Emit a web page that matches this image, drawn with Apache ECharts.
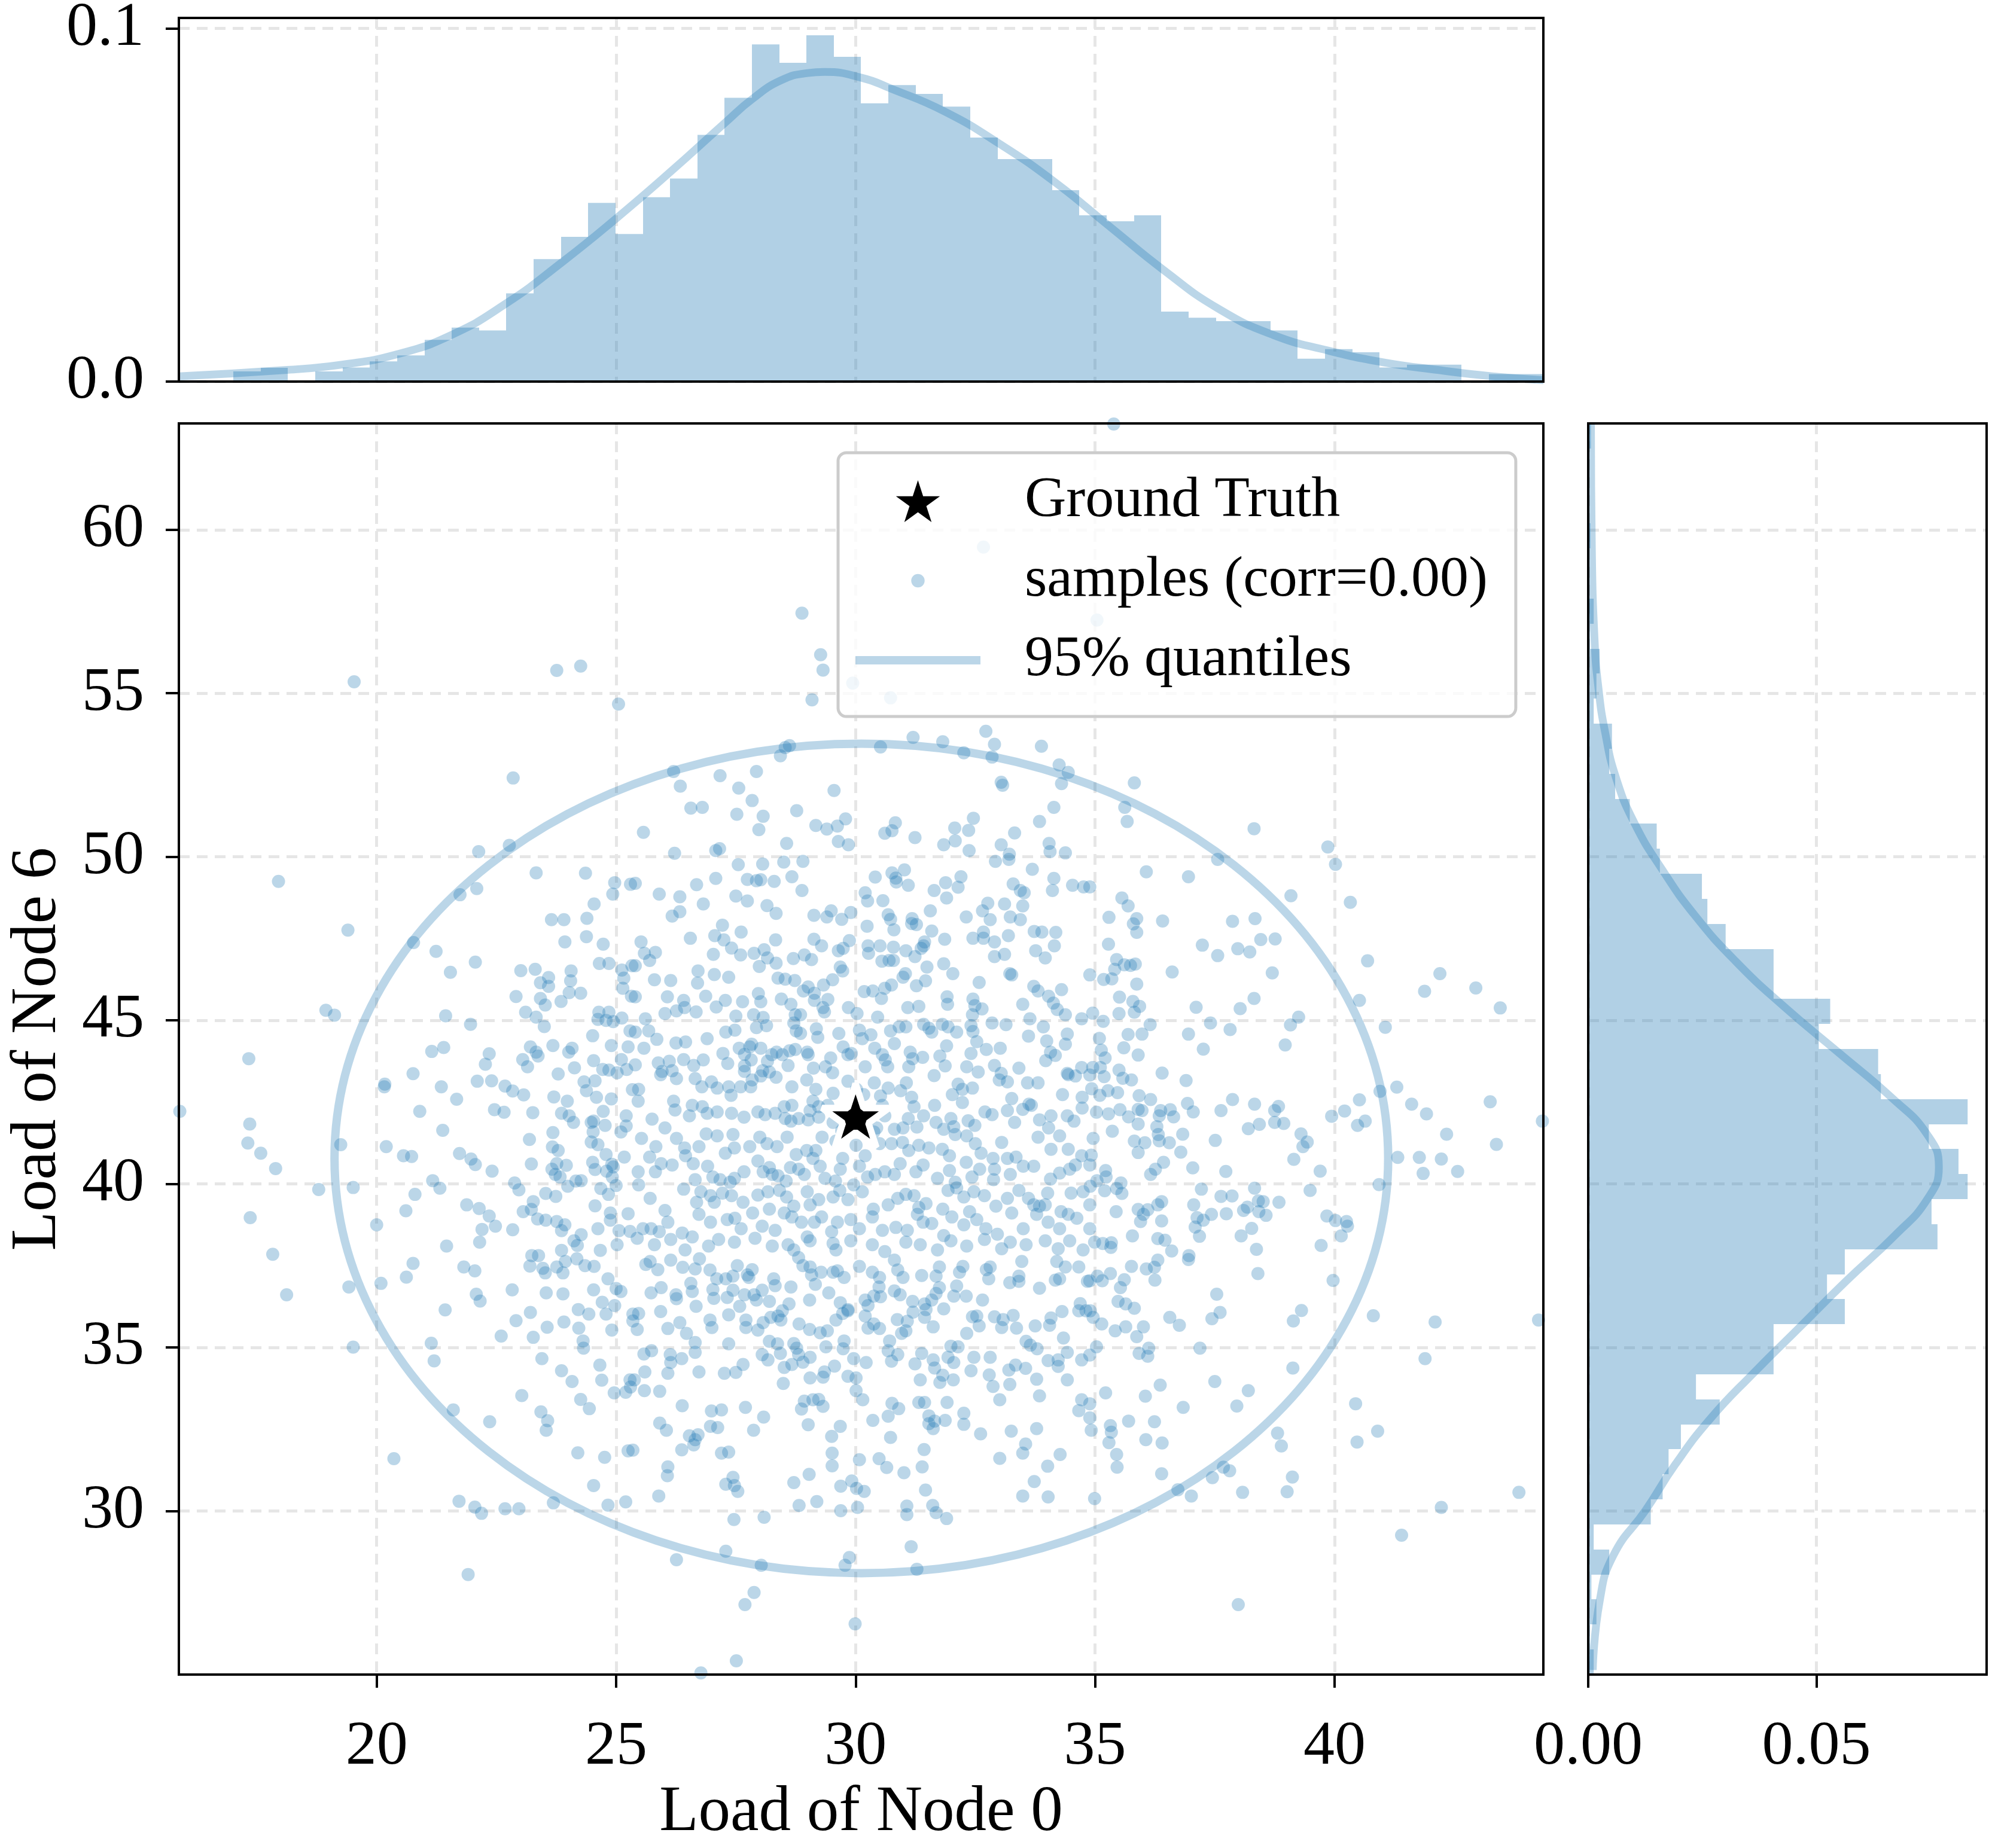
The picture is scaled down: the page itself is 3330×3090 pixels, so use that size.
<!DOCTYPE html>
<html>
<head>
<meta charset="utf-8">
<script src="https://cdn.jsdelivr.net/npm/echarts@6/dist/echarts.min.js"></script>
<style>
  html, body { margin: 0; padding: 0; background: #fff; }
  #chart { width: 3330px; height: 3090px; }
</style>
</head>
<body>
<div id="chart"></div>
<script>
// ---- data ----
const xTicks = [20, 25, 30, 35, 40];
const yTicks = [30, 35, 40, 45, 50, 55, 60];
const topTicks = [0, 0.1];
const rightTicks = [0, 0.05];

const groundTruth = [30, 42];
// centre x, centre y, half-width, half-height of the 95% region
const quantileEllipse = [30.12, 40.78, 11.0, 12.68];

// marginal histogram of Load of Node 0 (50 bins from 15.87, width 0.5698)
const topBinStart = 15.87, topBinWidth = 0.5698;
const topHist = [0.0004, 0, 0.0029, 0.0039, 0, 0.0029, 0.0040, 0.0057, 0.0074, 0.0118,
  0.0153, 0.0145, 0.0250, 0.0347, 0.0410, 0.0506, 0.0418, 0.0522, 0.0575, 0.0699,
  0.0804, 0.0955, 0.0903, 0.0981, 0.0920, 0.0788, 0.0840, 0.0815, 0.0779, 0.0691,
  0.0630, 0.0630, 0.0542, 0.0471, 0.0454, 0.0471, 0.0198, 0.0181, 0.0171, 0.0171,
  0.0145, 0.0065, 0.0092, 0.0083, 0.0040, 0.0048, 0.0048, 0, 0.0021, 0.0021];
const topKde = [[15.87,0.0015],[18.13,0.0033],[19.28,0.0048],[20.42,0.0077],[21.56,0.0132],
  [22.70,0.0221],[23.87,0.0338],[25.01,0.0463],[26.15,0.0596],[27.29,0.0735],[27.85,0.0801],
  [28.44,0.0853],[29.00,0.0874],[29.35,0.0877],[30.14,0.0860],[30.72,0.0831],[31.86,0.0765],
  [33.01,0.0673],[34.15,0.0566],[35.29,0.0441],[36.43,0.0316],[37.58,0.0206],[38.72,0.0132],
  [39.86,0.0088],[41.00,0.0055],[42.15,0.0033],[43.29,0.0015],[44.36,0.0004]];

// marginal histogram of Load of Node 6 (50 bins from 25.0, width 0.765)
const rightBinStart = 25.0, rightBinWidth = 0.765;
const rightHist = [0.0012, 0.0004, 0.0018, 0.0007, 0.0046, 0.0012, 0.0137, 0.0163, 0.0176, 0.0203,
  0.0288, 0.0236, 0.0406, 0.0406, 0.0562, 0.0523, 0.0562, 0.0765, 0.0752, 0.0831,
  0.0811, 0.0746, 0.0831, 0.0641, 0.0635, 0.0505, 0.0530, 0.0406, 0.0406, 0.0301,
  0.0261, 0.0249, 0.0157, 0.0150, 0.0091, 0.0059, 0.0046, 0.0052, 0.0012, 0.0018,
  0.0025, 0.0004, 0.0012, 0, 0, 0.0005, 0, 0, 0, 0.0006];
const rightKde = [[0.0010,25.14],[0.0025,27.24],[0.0055,28.64],[0.0126,30.03],[0.0191,31.43],
  [0.0268,32.83],[0.0363,34.23],[0.0464,35.63],[0.0565,37.03],[0.0672,38.43],[0.0743,39.54],
  [0.0768,40.52],[0.0743,41.50],[0.0666,42.62],[0.0548,44.02],[0.0429,45.42],[0.0322,46.82],
  [0.0233,48.22],[0.0162,49.61],[0.0102,51.01],[0.0061,52.41],[0.0037,53.81],[0.0022,55.21],
  [0.0014,56.61],[0.0008,59.40],[0.0006,63.25]];

// samples, split in three horizontal bands
const samplesHigh = [
[19.53,55.35],[23.76,55.70],[24.26,55.83],[25.05,54.67],[22.85,52.41],
[28.88,57.45],[29.27,56.18],[29.32,55.71],[29.09,54.80],[29.94,55.31],[30.73,54.86],[32.67,59.47],[31.20,53.65],[31.82,53.52],[32.72,53.84],[32.90,53.44],[32.26,53.18],[32.85,53.05],[33.88,53.38],[30.52,53.36],[28.62,53.40],[28.53,53.34],[28.43,53.09],[26.20,52.61],[26.34,52.16],[27.17,52.48],[27.93,52.61],[27.56,52.10],[27.84,51.72],[26.56,51.49],[26.80,51.51],[27.52,51.30],[28.07,51.24],[28.77,51.41],[29.55,52.03],[34.25,52.81],[34.44,52.58],[33.04,52.28],[33.07,52.19],[34.30,52.24],[34.14,51.51],[33.84,51.08],[32.46,51.18],[32.07,50.88],[32.36,50.81],[33.32,50.73],[30.83,51.04],[30.76,50.80],[30.61,50.72],[29.17,50.96],[29.40,50.85],[29.62,50.94],[29.79,51.16],[27.98,50.83],[25.57,50.75],[31.24,50.59],
[35.39,63.23],[35.82,52.26],[35.62,51.51],[35.67,51.08],[38.32,50.86],[35.04,57.24]
];

const samplesMid = [
[22.77,50.35],[22.13,50.16],[17.95,49.25],[23.33,49.51],[24.36,49.50],[24.97,49.21],[24.93,48.86],[25.30,49.16],[22.09,49.03],[21.74,48.84],[24.54,48.56],[23.65,48.08],[23.91,48.08],[24.39,48.12],[19.40,47.76],[23.93,47.40],[24.38,47.56],[24.73,47.33],[20.77,47.38],[21.24,47.11],[22.06,46.78],[21.54,46.47],[23.01,46.52],[23.31,46.56],[23.59,46.31],[23.42,46.15],[23.59,46.04],[24.06,46.51],[24.05,46.21],[24.02,45.85],[24.26,45.83],[23.85,45.58],[24.65,46.74],[24.85,46.74],[25.12,46.54],[25.16,46.29],[25.14,45.98],[25.33,46.67],[22.91,45.73],[23.42,45.67],[23.52,45.47],[18.94,45.31],[19.12,45.16],[21.44,45.14],[21.96,44.88],[23.11,45.25],[23.33,45.10],[23.50,44.81],[24.64,45.25],[24.85,45.25],[24.62,45.03],[24.79,45.00],[24.94,44.96],[25.12,45.07],[25.32,45.74],[24.51,44.53],[25.29,44.68],[24.90,44.23],[25.25,44.19],[17.33,43.83],[21.15,44.05],[21.40,44.17],[22.35,43.98],[22.27,43.66],[23.21,44.19],[23.33,44.03],[23.37,43.91],[23.05,43.80],[23.15,43.58],[23.68,44.23],[24.08,44.15],[24.01,44.03],[24.53,43.77],[25.11,43.80],[25.22,43.50],[24.72,43.50],[24.85,43.48],[25.02,43.40],[24.13,43.55],[23.79,43.36],[20.76,43.37],[20.17,43.05],[20.16,42.97],[21.35,42.97],[22.10,43.14],[22.40,43.15],[22.68,42.99],[22.84,42.84],[23.07,42.72],[24.33,43.12],[24.56,43.15],[24.38,42.85],[24.59,42.65],[24.90,42.60],[23.70,42.66],[23.98,42.53],[25.34,42.88],[21.67,42.59],[15.89,42.22],[20.90,42.22],[22.46,42.27],[22.66,42.19],[23.26,42.18],[23.86,42.16],[24.02,42.08],[24.11,41.88],[24.73,42.22],[25.21,42.08],[24.53,41.92],[24.48,41.88],[24.77,41.79],[24.52,41.59],[25.10,41.59],[25.21,41.77],[17.35,41.83],[17.31,41.25],[17.58,40.94],[17.89,40.47],[19.25,41.20],[21.38,41.64],[20.20,41.14],[20.56,40.86],[20.73,40.84],[21.73,40.93],[21.97,40.76],[22.06,40.59],[22.41,40.39],[23.19,41.36],[23.68,41.57],[23.67,41.13],[23.79,41.02],[23.23,40.61],[23.76,40.62],[23.96,40.57],[23.66,40.45],[23.73,40.29],[23.83,40.21],[24.48,41.28],[24.62,41.20],[24.79,40.90],[25.17,40.82],[24.51,40.66],[24.56,40.44],[24.80,40.39],[24.91,40.60],[24.94,40.52],[24.92,40.21],[25.00,39.95],[18.79,39.83],[19.51,39.89],[21.17,40.10],[21.32,39.87],[20.80,39.68],[22.88,40.03],[22.97,39.82],[23.53,39.71],[23.74,39.62],[23.99,39.93],[24.16,40.09],[24.27,40.10],[24.68,39.86],[24.84,39.68],[17.36,38.97],[20.61,39.18],[20.00,38.75],[21.88,39.36],[22.14,39.25],[22.35,39.02],[22.48,38.71],[22.20,38.61],[22.84,38.60],[23.27,39.46],[23.06,39.15],[23.23,39.22],[23.36,38.93],[23.53,38.89],[23.76,38.85],[23.93,38.75],[23.86,38.57],[24.56,39.33],[24.88,39.11],[24.88,38.89],[25.25,39.09],[24.62,38.63],[24.27,38.45],[24.12,38.26],[24.19,38.12],[25.06,38.57],[25.29,38.55],[25.02,38.14],[24.67,37.97],[23.86,37.97],[21.46,38.10],[22.15,38.22],[17.83,37.85],[23.24,37.81],[23.38,37.81],
[26.22,50.11],[27.08,50.19],[27.16,50.25],[27.55,49.76],[28.06,49.78],[28.50,49.84],[28.56,50.41],[28.90,49.86],[29.64,50.47],[29.85,50.37],[31.84,50.37],[32.08,50.49],[32.37,50.19],[32.92,49.86],[33.04,50.37],[33.21,50.08],[33.20,49.92],[33.69,49.62],[34.04,50.41],[34.06,50.16],[34.38,50.12],
[25.40,49.19],[25.90,48.86],[26.33,48.78],[26.68,49.15],[27.08,49.34],[27.74,49.31],[27.93,49.27],[28.02,49.30],[28.30,49.25],[28.67,49.39],[28.88,48.97],[30.41,49.38],[30.76,49.51],[31.02,49.60],[30.84,49.35],[30.85,49.23],[31.10,49.13],[31.64,48.97],[31.88,49.21],[32.14,49.07],[32.20,49.39],[33.29,49.17],[33.44,48.97],[33.52,48.90],[34.14,49.34],[34.11,48.97],[34.53,49.13],[34.76,49.08],
[26.17,48.19],[26.33,48.32],[26.82,48.56],[27.50,48.80],[27.74,48.65],[28.15,48.51],[28.34,48.27],[29.13,48.21],[29.40,48.16],[29.49,48.35],[29.71,48.09],[29.90,48.30],[30.20,48.90],[30.25,48.65],[30.57,48.66],[30.68,48.23],[30.73,48.09],[31.18,48.11],[31.56,48.35],[31.90,48.74],[32.31,48.16],[32.65,48.35],[32.76,48.58],[32.81,48.08],[33.11,48.56],[33.23,48.16],[33.49,48.50],[33.44,48.08],
[27.22,47.91],[26.55,47.51],[27.06,47.59],[27.25,47.46],[27.41,47.21],[27.61,47.70],[28.33,47.46],[29.13,47.48],[29.29,47.28],[29.87,47.44],[30.24,47.88],[30.26,47.28],[30.51,47.28],[30.79,47.24],[30.80,47.77],[31.17,47.96],[31.27,47.93],[31.59,47.73],[31.86,47.48],[31.44,47.40],[32.45,47.51],[32.67,47.70],[32.67,47.51],[32.90,47.40],[33.19,47.59],[33.73,47.72],[33.89,47.70],[34.18,47.69],[34.15,47.28],[33.76,47.13],
[25.52,47.40],[25.59,47.05],[25.82,47.08],[25.70,46.83],[25.40,46.67],[27.03,47.02],[27.60,47.00],[27.88,47.05],[28.09,47.16],[28.16,46.91],[28.34,46.75],[27.99,46.65],[28.70,46.89],[28.93,47.00],[29.08,46.86],[29.64,47.13],[29.74,47.20],[30.27,47.05],[30.55,46.81],[30.70,46.83],[30.79,46.83],[31.05,47.13],[31.24,46.95],[31.37,47.20],[31.42,47.28],[31.49,46.63],[31.84,46.73],[32.03,46.43],[32.90,46.95],[33.11,47.02],[33.96,46.91],
[25.80,46.24],[26.14,46.22],[26.71,46.51],[26.70,46.14],[27.05,46.40],[27.35,46.32],[28.38,46.29],[28.53,46.26],[28.73,46.22],[28.91,45.90],[29.01,46.02],[29.14,45.83],[29.33,46.08],[29.52,46.24],[29.68,46.63],[29.73,46.51],[30.18,45.88],[30.36,45.90],[30.54,45.67],[30.61,45.98],[30.75,46.08],[30.99,46.32],[31.04,46.43],[31.27,46.06],[31.46,46.21],[31.91,45.72],[31.92,45.49],[32.45,45.65],[32.58,46.16],[33.22,46.43],[33.26,46.39],[33.72,46.04],[33.81,45.90],[34.03,45.74],[34.30,45.94],
[25.40,45.72],[26.07,45.72],[26.02,45.21],[26.26,45.29],[26.41,45.61],[26.43,45.39],[26.67,45.26],[26.87,45.74],[27.09,45.41],[27.28,45.61],[27.64,45.57],[27.50,45.13],[27.87,45.17],[28.07,45.09],[27.97,45.82],[28.02,45.57],[28.45,45.65],[28.65,45.49],[28.74,45.17],[28.85,45.17],[29.14,45.61],[29.35,45.26],[29.32,45.39],[29.42,45.64],[29.85,45.39],[30.03,45.21],[30.46,45.10],[31.09,45.39],[31.32,45.43],[32.49,45.45],[32.64,45.35],[32.44,45.17],[33.49,45.49],[33.64,45.05],[34.13,45.53],[34.21,45.33],[34.38,45.17],[34.72,45.05],
[25.61,45.05],[25.40,44.64],[25.68,44.68],[25.85,44.42],[26.25,44.31],[26.45,44.34],[26.90,44.44],[27.29,44.64],[27.48,44.70],[27.93,44.78],[28.14,44.84],[28.71,44.92],[28.76,44.68],[28.85,44.60],[29.18,44.74],[29.21,44.48],[29.65,44.60],[30.08,44.70],[30.14,44.44],[30.32,44.56],[30.73,44.68],[30.91,44.80],[31.05,44.80],[31.42,44.88],[31.53,44.76],[31.59,44.64],[31.81,44.88],[31.93,44.80],[32.11,44.64],[32.41,44.84],[32.45,44.66],[32.85,44.92],[33.14,44.87],[32.53,44.35],[33.92,44.80],[33.99,44.37],[34.42,44.58],[34.38,44.27],[33.61,44.52],
[25.58,44.15],[25.40,43.64],[25.88,43.70],[26.11,43.75],[25.96,43.44],[26.17,43.46],[26.41,43.80],[26.62,43.62],[26.82,43.79],[27.23,43.99],[27.33,43.68],[27.57,44.15],[27.68,43.96],[27.79,44.19],[27.83,44.27],[28.02,44.15],[28.25,43.95],[28.35,44.03],[28.47,43.95],[28.62,44.07],[28.74,44.11],[28.59,43.62],[28.16,43.75],[28.06,43.46],[27.82,43.79],[27.68,43.61],[27.68,43.44],[28.99,44.03],[29.12,43.54],[29.01,43.95],[29.37,43.58],[29.48,43.85],[29.52,43.40],[29.74,44.19],[29.84,43.95],[29.91,43.99],[30.20,43.58],[30.40,44.15],[30.56,43.95],[30.62,43.79],[30.67,43.58],[30.81,44.29],[31.14,44.03],[31.19,43.83],[31.40,43.87],[31.11,43.58],[31.64,43.31],[31.76,43.91],[31.87,43.61],[31.90,44.22],[32.32,43.58],[32.41,43.99],[32.56,43.42],[32.73,44.11],[32.90,43.62],[33.02,44.15],[33.04,43.38],[33.41,43.54],[33.97,43.77],[34.07,44.03],[34.17,43.93],[34.42,43.38],[34.72,43.56],
[25.47,42.89],[25.46,42.53],[25.93,43.34],[26.26,43.22],[26.65,43.22],[26.79,42.97],[26.99,43.12],[27.11,42.93],[27.35,42.97],[27.40,42.71],[27.60,42.97],[27.81,42.97],[27.84,43.18],[28.02,43.30],[28.20,43.42],[28.34,43.26],[28.67,42.97],[28.98,43.18],[29.17,42.89],[29.11,42.53],[29.53,42.77],[29.84,43.14],[30.02,42.89],[30.17,42.73],[30.39,43.09],[30.52,42.69],[30.68,42.93],[30.94,42.85],[31.06,43.09],[31.17,42.65],[31.65,42.40],[32.02,42.73],[32.14,43.05],[32.23,42.89],[32.44,42.93],[32.23,42.49],[33.00,43.18],[33.17,43.12],[33.26,42.61],[33.59,43.09],[33.81,43.09],[34.32,42.73],[34.44,43.34],[34.59,43.30],[34.73,42.65],[33.62,42.44],
[25.75,41.98],[26.02,41.71],[26.20,42.53],[26.23,42.26],[26.53,42.08],[26.59,42.40],[26.80,42.36],[26.90,42.16],[27.11,42.20],[27.41,42.16],[27.67,42.04],[27.96,42.20],[28.11,42.12],[28.32,42.16],[28.53,42.00],[28.65,41.92],[28.81,42.00],[28.51,42.36],[28.67,42.40],[29.01,41.96],[29.05,42.24],[29.23,42.36],[29.23,42.04],[29.42,42.40],[29.53,41.88],[29.71,41.63],[30.56,42.40],[30.44,41.71],[30.61,42.08],[30.81,41.67],[31.10,42.00],[30.99,41.71],[31.22,42.36],[31.28,41.74],[31.42,42.08],[31.68,41.88],[31.84,41.67],[31.99,42.00],[32.05,41.75],[32.35,41.93],[32.49,41.79],[32.70,42.20],[32.85,42.12],[33.17,42.24],[33.32,41.88],[33.49,42.28],[33.67,42.40],[33.84,41.96],[34.08,42.08],[34.03,41.71],[34.42,42.08],[34.56,41.92],[34.73,42.32],
[25.53,41.39],[25.70,40.82],[25.83,41.14],[26.26,41.39],[26.43,41.10],[26.45,40.86],[26.73,41.14],[26.88,41.53],[27.11,41.47],[27.44,41.51],[27.47,41.10],[27.28,40.94],[27.79,41.14],[28.00,41.43],[28.15,41.23],[28.36,41.14],[28.57,41.43],[28.76,40.90],[28.98,41.02],[29.17,41.02],[29.11,40.78],[29.30,41.43],[29.59,41.31],[29.73,40.78],[30.01,41.18],[30.20,40.86],[30.38,41.59],[30.50,41.23],[30.75,41.23],[30.98,41.27],[31.11,41.02],[31.32,41.18],[31.53,41.10],[31.81,41.06],[31.96,40.86],[32.08,41.51],[32.32,41.47],[32.50,41.23],[32.31,40.66],[32.62,40.94],[32.87,40.78],[33.05,41.27],[33.17,40.78],[33.35,40.82],[33.81,41.43],[34.08,41.06],[34.26,41.47],[34.44,41.06],[34.72,40.86],
[25.46,40.37],[25.82,40.37],[25.94,40.62],[26.17,40.58],[26.61,40.62],[26.91,40.54],[26.65,40.13],[27.02,40.21],[27.17,40.13],[27.38,40.05],[27.47,40.17],[27.67,40.37],[27.96,40.70],[28.07,40.37],[28.20,40.50],[28.26,40.29],[28.38,40.25],[28.64,40.50],[28.81,40.45],[28.55,40.09],[28.93,40.29],[29.26,40.54],[29.36,40.17],[29.58,40.09],[29.68,40.45],[30.08,40.54],[30.25,40.21],[30.41,40.29],[30.61,40.37],[30.81,40.29],[30.93,40.62],[31.26,40.37],[31.41,40.58],[31.71,40.17],[31.96,40.41],[32.08,40.05],[32.43,40.21],[32.59,40.45],[32.90,40.45],[32.88,40.13],[33.23,40.29],[33.50,40.54],[33.72,40.54],[34.07,40.15],[34.26,40.33],[34.47,40.45],[34.59,40.58],
[25.47,39.97],[25.71,39.56],[26.02,39.19],[26.41,39.84],[26.68,39.44],[26.77,39.76],[26.97,39.64],[27.05,39.44],[27.22,39.72],[27.41,39.64],[27.65,39.44],[27.96,39.66],[28.17,39.76],[28.41,39.80],[28.56,39.60],[28.20,39.23],[28.71,39.32],[28.99,39.76],[29.05,39.36],[29.23,39.52],[29.53,39.60],[29.67,39.80],[29.84,39.52],[29.96,39.97],[30.14,39.76],[30.37,39.23],[30.68,39.36],[30.88,39.56],[31.05,39.68],[31.22,39.64],[31.32,39.28],[31.47,39.40],[31.82,39.23],[31.93,39.80],[32.11,39.88],[32.26,39.60],[32.47,39.76],[32.69,39.64],[32.93,39.32],[33.17,39.56],[33.41,39.80],[33.61,39.56],[33.72,39.36],[34.01,39.72],[33.84,39.32],[33.96,39.36],[34.29,39.15],[34.50,39.72],[34.75,39.76],
[25.56,38.63],[25.73,38.63],[25.90,38.54],[26.08,38.83],[26.38,38.50],[26.59,38.38],[26.73,39.07],[26.97,38.83],[27.32,38.91],[27.48,38.95],[27.61,38.63],[27.85,39.11],[28.05,38.71],[28.32,38.58],[28.51,39.11],[28.67,38.99],[28.87,38.83],[28.99,38.38],[29.14,38.83],[29.29,38.99],[29.50,38.54],[29.62,38.83],[29.90,38.91],[30.08,38.63],[30.35,38.99],[30.56,38.58],[30.84,38.67],[31.08,38.58],[31.29,39.07],[31.41,38.83],[31.59,38.79],[31.84,38.42],[32.01,38.99],[32.26,38.75],[32.38,39.15],[32.53,38.91],[32.72,38.63],[32.96,38.46],[33.26,39.11],[33.50,38.63],[33.78,39.07],[34.02,38.83],[34.26,38.63],[34.44,39.07],[34.62,38.95],
[25.44,38.34],[25.80,38.14],[26.14,38.30],[26.44,37.98],[26.93,38.10],[27.14,38.30],[27.47,38.22],[27.90,38.34],[28.26,38.10],[28.59,38.14],[28.71,37.98],[29.05,38.26],[29.53,38.18],[29.59,37.98],[29.90,38.26],[30.35,38.14],[30.61,37.93],[31.05,38.22],[31.35,38.14],[31.71,37.98],[31.99,38.26],[32.32,38.10],[32.69,38.30],[33.05,38.02],[33.23,38.22],[33.56,38.14],[33.96,38.26],[34.23,38.02],[34.47,38.26],[34.75,37.98],
[39.86,50.30],[40.02,49.77],[37.56,49.92],[36.07,49.54],[36.95,49.39],[34.89,49.08],[35.56,48.74],[35.69,48.50],[35.29,48.15],[35.87,48.11],[35.80,47.95],[35.87,47.69],[36.41,48.04],[37.87,48.03],[38.34,48.11],[39.09,48.81],[40.33,48.61],[38.46,47.47],[38.76,47.49],[37.24,47.30],[37.56,46.98],[37.98,47.19],[38.23,47.09],[35.28,47.33],[35.45,46.86],[35.41,46.56],[35.61,46.70],[35.74,46.68],[35.84,46.72],[34.89,46.39],[35.18,46.25],[35.35,46.27],[35.87,46.11],[36.61,46.48],[38.70,46.45],[40.69,46.82],[42.20,46.43],[41.88,45.89],[42.95,45.99],[43.46,45.38],[40.52,45.61],[35.51,45.71],[35.79,45.58],[35.93,45.43],[35.82,45.25],[35.50,45.21],[34.95,45.22],[35.17,44.97],[36.15,44.87],[37.11,45.40],[38.03,45.36],[38.32,45.67],[37.41,44.92],[37.82,44.72],[39.08,44.86],[39.25,45.10],[41.06,44.79],[35.98,44.58],[35.69,44.57],[35.09,44.45],[35.60,44.16],[36.95,44.58],[37.26,44.12],[38.97,44.25],[35.13,44.09],[35.21,43.85],[35.90,43.94],[34.95,43.56],[35.11,43.56],[35.50,43.48],[35.58,43.23],[35.19,43.28],[35.76,43.18],[36.40,43.39],[36.90,43.16],[34.89,43.33],[34.93,42.91],[35.10,42.71],[35.27,42.85],[35.47,42.79],[35.92,42.70],[36.16,42.58],[36.93,42.46],[37.87,42.58],[38.33,42.44],[38.83,42.37],[38.75,42.24],[41.30,42.96],[40.95,42.83],[40.52,42.57],[41.61,42.44],[41.92,42.14],[43.25,42.51],[40.21,42.23],[39.94,42.07],[40.64,41.92],[40.48,41.79],[35.03,42.19],[35.28,42.14],[35.52,42.27],[35.70,42.05],[35.90,42.28],[35.98,42.24],[36.37,42.24],[36.57,42.27],[36.64,42.05],[36.34,42.08],[37.05,42.20],[37.63,42.24],[35.90,41.83],[36.29,41.75],[35.36,41.61],[34.96,41.39],[35.82,41.31],[36.04,41.26],[36.32,41.51],[36.34,41.32],[36.55,41.26],[36.83,41.52],[37.51,41.33],[38.20,41.69],[38.43,41.82],[38.75,41.88],[38.94,41.85],[39.30,41.53],[39.43,41.28],[39.34,41.14],[39.15,40.75],[42.34,41.52],[43.38,41.21],[41.32,40.81],[41.77,40.81],[42.23,40.76],[41.85,40.32],[42.57,40.38],[35.90,40.96],[36.79,40.97],[34.92,40.88],[34.89,40.58],[35.22,40.41],[35.23,40.21],[36.43,40.66],[36.26,40.45],[36.16,40.29],[37.04,40.49],[37.73,40.38],[39.70,40.39],[40.93,39.98],[39.49,39.80],[38.33,39.87],[37.22,39.84],[35.04,40.10],[34.90,39.93],[35.20,39.79],[35.45,39.86],[35.56,39.71],[35.54,40.03],[34.89,39.36],[35.44,39.15],[35.90,39.22],[36.10,39.21],[36.31,39.36],[36.39,39.46],[36.01,39.07],[35.95,38.85],[36.39,38.87],[37.06,39.36],[37.13,38.97],[37.26,38.89],[37.43,39.07],[37.74,39.09],[37.63,39.62],[37.86,39.63],[38.10,39.19],[38.18,39.29],[38.41,39.48],[38.51,39.46],[38.42,39.15],[38.57,39.04],[38.84,39.44],[38.27,38.64],[38.05,38.41],[37.09,38.68],[37.18,38.40],[39.84,39.02],[40.02,38.88],[40.25,38.85],[40.27,38.71],[40.14,38.41],[39.72,38.12],[35.78,38.41],[36.31,38.33],[36.46,38.28],[34.89,38.63],[34.99,38.22],[35.16,38.18],[35.34,38.20],[35.33,38.06],[36.60,37.95],[38.37,38.00],[36.96,37.81],[44.34,41.92]
];

const samplesLow = [
[18.12,36.61],[19.42,36.85],[20.09,36.96],[20.62,37.15],[20.76,37.57],[21.82,37.46],[22.05,37.34],[22.08,36.63],[22.16,36.42],[21.43,36.15],[19.51,35.01],[21.14,35.13],[21.20,34.59],[21.60,33.09],[22.36,32.73],[20.36,31.60],[21.91,28.06],[21.72,30.30],[22.05,30.12],[22.19,29.93],[22.68,30.07],[22.97,30.07],[23.69,30.25],[22.60,35.35],[22.83,36.76],[22.91,35.82],[23.20,37.49],[23.47,37.42],[23.52,37.28],[23.76,37.46],[23.89,37.28],[23.94,37.63],[24.18,37.71],[24.35,37.50],[24.54,37.48],[23.54,36.67],[23.89,36.64],[24.53,36.76],[24.83,37.10],[25.00,36.80],[25.10,36.71],[24.71,36.38],[24.97,36.28],[24.79,36.02],[24.43,36.02],[24.21,36.16],[23.91,35.78],[24.22,35.59],[23.56,35.62],[23.21,36.07],[23.27,35.31],[24.91,35.53],[25.35,35.81],[25.35,36.02],[24.31,35.20],[24.32,34.98],[23.45,34.66],[23.86,34.29],[24.08,33.96],[24.66,34.46],[24.70,34.00],[24.96,33.61],[25.20,33.63],[25.29,34.01],[25.30,33.79],[23.03,33.53],[24.26,33.41],[24.44,33.13],[23.43,33.03],[23.57,32.76],[23.54,32.47],[24.20,31.78],[24.76,31.64],[25.25,31.84],[24.53,30.78],[24.83,30.18],[25.20,30.28],
[25.62,37.54],[25.71,37.63],[25.87,37.38],[26.14,37.67],[26.39,37.45],[26.65,37.40],[26.74,37.71],[26.96,37.37],[27.10,37.10],[27.29,37.10],[27.44,37.18],[27.53,37.50],[27.74,37.22],[27.84,37.38],[27.77,37.14],[28.29,37.10],[28.81,37.75],[28.90,37.50],[29.05,37.46],[29.08,37.22],[29.28,37.30],[29.53,37.30],[29.62,37.34],[29.76,37.14],[30.08,37.48],[30.35,37.30],[30.50,37.14],[30.81,37.67],[30.88,37.37],[30.99,37.14],[31.38,37.20],[31.68,37.18],[31.75,37.46],[32.17,37.30],[32.24,37.48],[32.73,37.38],[32.81,37.46],[32.78,37.10],[33.47,37.63],[33.41,37.18],[33.41,37.02],[33.22,36.98],[34.20,37.63],[34.38,37.46],[34.26,37.10],[34.17,37.06],[34.66,37.46],[34.84,37.02],
[25.73,36.67],[25.94,36.83],[26.25,36.61],[26.26,36.49],[26.56,36.96],[26.59,36.71],[26.67,36.26],[27.02,36.77],[27.04,36.50],[27.32,36.53],[27.44,36.75],[27.58,36.26],[27.68,36.61],[27.88,36.61],[27.93,36.45],[28.05,36.75],[28.20,36.41],[28.32,36.89],[28.65,36.85],[28.61,36.33],[29.04,36.45],[29.16,36.93],[29.44,36.67],[29.68,36.37],[29.84,36.16],[30.20,36.45],[30.26,36.28],[30.38,36.57],[30.49,36.85],[30.52,36.55],[30.81,36.73],[30.93,36.61],[31.19,36.41],[31.44,36.33],[31.59,36.45],[31.68,36.65],[31.75,36.83],[31.84,36.18],[32.05,36.57],[32.11,36.88],[32.31,36.57],[32.65,36.45],[33.84,36.81],[34.69,36.34],[34.81,36.12],
[25.47,36.04],[25.44,35.55],[25.93,36.10],[26.08,35.58],[26.33,35.76],[26.47,35.43],[26.96,35.84],[27.00,35.61],[27.35,36.00],[27.71,35.84],[27.71,35.61],[27.96,35.53],[28.07,35.76],[28.23,35.92],[28.38,35.96],[28.44,35.84],[28.47,36.12],[28.82,35.72],[29.04,35.55],[29.26,35.45],[29.41,35.51],[29.59,35.84],[29.73,36.04],[29.84,36.12],[30.20,35.96],[30.26,35.59],[30.38,35.72],[30.50,35.58],[30.87,35.85],[31.08,35.80],[31.05,35.51],[30.96,35.43],[31.20,36.08],[31.44,35.92],[31.47,36.16],[31.62,35.63],[32.32,35.43],[32.44,35.94],[32.53,35.96],[32.58,35.66],[32.90,35.94],[33.05,35.61],[33.08,35.85],[33.29,35.98],[33.36,35.59],[33.75,35.66],[34.05,35.68],[34.08,35.90],[34.31,36.10],[34.66,36.12],[34.34,35.29],
[25.58,34.80],[25.74,34.90],[26.13,34.78],[26.14,34.54],[26.37,34.66],[26.65,35.15],[26.65,34.85],[27.35,35.11],[28.05,34.78],[28.20,35.19],[28.17,34.62],[28.37,35.11],[28.43,34.82],[28.71,35.12],[28.77,34.98],[28.81,34.78],[28.90,34.55],[29.05,34.70],[29.38,35.02],[29.76,35.20],[29.74,34.96],[29.96,34.66],[30.22,34.54],[30.71,35.20],[30.68,34.90],[30.88,34.78],[30.75,34.58],[31.38,34.82],[31.24,34.50],[31.62,34.62],[31.93,34.70],[31.99,35.04],[32.05,34.54],[32.14,35.02],[32.47,34.70],[32.81,34.70],[33.56,35.19],[33.65,35.07],[33.79,34.96],[34.02,34.60],[34.23,34.62],[34.42,34.85],[34.72,34.62],
[25.60,34.25],[25.38,34.01],[25.59,33.68],[25.91,33.66],[26.08,34.21],[26.73,34.25],[27.26,34.21],[27.50,34.24],[27.65,34.48],[28.49,33.90],[28.51,34.39],[28.67,34.48],[29.05,34.07],[29.32,34.09],[29.35,34.25],[29.56,34.43],[29.84,34.12],[30.01,34.07],[30.01,33.68],[31.35,34.01],[31.65,34.37],[31.76,33.93],[31.82,34.15],[32.04,34.01],[32.41,34.29],[32.79,34.16],[32.87,33.81],[33.22,33.87],[33.20,34.31],[33.34,34.46],[33.55,34.36],[33.78,34.03],[34.23,34.42],[34.42,34.01],
[26.38,33.22],[26.99,33.06],[27.20,33.09],[27.70,33.17],[28.08,32.87],[28.87,33.12],[28.93,33.36],[29.11,33.40],[29.23,33.41],[29.32,33.20],[30.15,33.40],[30.36,32.77],[30.68,32.90],[30.76,33.29],[30.90,33.13],[31.32,33.32],[31.44,33.32],[31.53,32.91],[31.65,32.75],[31.87,32.77],[31.91,33.32],[32.26,32.99],[32.26,32.65],[33.01,33.40],[33.84,33.52],[34.66,33.07],[34.72,33.40],
[25.91,32.69],[26.05,32.47],[26.97,32.59],[27.12,32.55],[27.87,32.47],[29.01,32.64],[29.68,32.59],[29.50,32.28],[31.53,32.67],[31.62,32.52],[32.61,32.36],[33.25,32.44],[33.78,32.52],[30.73,32.25],[26.53,32.30],[26.71,32.33],[26.65,32.18],[26.62,32.02],
[25.35,31.86],[26.37,31.87],[27.20,31.77],[27.35,31.80],[26.08,31.35],[26.07,31.08],[25.89,30.46],[27.44,31.03],[27.29,30.82],[27.47,30.78],[27.54,30.60],[28.71,30.87],[29.03,31.12],[29.51,31.77],[29.51,31.38],[29.69,30.76],[29.92,30.92],[30.02,30.69],[30.08,31.57],[30.18,30.60],[30.49,31.60],[30.65,31.33],[31.01,31.17],[31.39,31.35],[31.43,31.88],[31.46,30.64],[33.01,31.61],[33.55,32.05],[33.49,31.77],[33.73,30.90],[33.49,30.46],[34.01,31.37],[34.27,31.73],
[28.82,30.17],[29.19,30.29],[29.69,30.01],[30.04,30.11],[31.07,30.15],[31.07,29.89],[31.61,30.17],[31.68,29.95],[31.90,29.77],[27.46,29.74],[28.09,29.81],[34.02,30.43],[26.26,28.51],[27.29,28.77],[28.03,28.34],[29.87,28.58],[29.78,28.34],[31.16,28.91],[31.28,28.22],[27.88,27.51],[27.69,27.14],[29.99,26.55],[27.51,25.42],[26.77,25.05],
[35.76,37.48],[36.07,37.40],[36.24,37.45],[36.31,37.67],[36.95,37.69],[36.25,37.06],[38.40,37.26],[35.61,37.07],[35.53,36.83],[34.89,37.04],[35.05,37.18],[35.15,37.04],[35.32,37.26],[35.48,36.41],[35.64,36.33],[35.82,36.20],[34.90,36.12],[34.96,35.92],[35.14,35.72],[35.42,35.51],[35.64,35.63],[36.01,35.63],[35.87,35.33],[36.56,35.92],[36.76,35.68],[37.44,35.88],[37.61,36.07],[37.54,36.63],[39.14,35.81],[39.31,36.13],[39.97,37.05],[40.81,35.97],[42.10,35.78],[44.26,35.84],[41.89,34.66],[37.19,34.98],[36.12,34.98],[35.03,35.02],[34.89,34.77],[35.92,34.82],[36.10,34.73],[39.13,34.37],[37.50,33.96],[38.20,33.68],[37.96,33.21],[36.36,33.85],[36.05,33.51],[35.22,33.61],[34.89,33.28],[34.89,32.85],[34.92,32.47],[35.32,32.61],[35.34,32.41],[35.29,32.09],[35.70,32.75],[36.24,32.73],[36.06,32.18],[36.40,32.08],[36.84,33.17],[35.45,31.73],[35.46,31.34],[36.39,31.14],[40.44,33.28],[40.90,32.44],[40.47,32.11],[38.81,32.38],[38.89,31.99],[37.68,31.34],[37.81,31.23],[37.45,31.02],[36.73,30.65],[37.01,30.46],[38.08,30.57],[39.01,30.59],[39.12,31.04],[34.99,30.38],[42.23,30.11],[43.85,30.57],[41.40,29.26],[37.99,27.14]
];

// ---- styling ----
const FONT = 'Liberation Serif';
const BLUE = 'rgba(31,119,180,0.3)';
const BAR = 'rgba(31,119,180,0.35)';
const X_MIN = 15.87, X_MAX = 44.36, Y_MIN = 25.0, Y_MAX = 63.25;
const STAR = 'path://M50,0L61.23,34.55L97.55,34.55L68.16,55.9L79.39,90.45L50,69.1L20.61,90.45L31.84,55.9L2.45,34.55L38.77,34.55Z';
const DOT = 'path://M0,0L0.01,0M100,100L100.01,100M34,50A16,16,0,1,1,66,50A16,16,0,1,1,34,50Z';
const BAND = 'path://M0,0L0.01,0M0,70L0.01,70M0,28L209,28L209,42L0,42Z';

const gridLine = { show: true, lineStyle: { color: '#e6e6e6', width: 5, type: [18, 12] } };
const tick = { show: true, length: 22, lineStyle: { color: '#000', width: 4 } };
const label = { fontFamily: FONT, fontSize: 104, color: '#000' };
const frame = { show: true, borderColor: '#000', borderWidth: 4, backgroundColor: 'transparent', z: 10, outerBoundsMode: 'none' };

const topBars = topHist.map((v, i) => [topBinStart + i * topBinWidth, topBinStart + (i + 1) * topBinWidth, v]);
const rightBars = rightHist.map((v, i) => [rightBinStart + i * rightBinWidth, rightBinStart + (i + 1) * rightBinWidth, v]);

const chart = echarts.init(document.getElementById('chart'));
chart.setOption({
  animation: false,
  backgroundColor: '#fff',
  grid: [
    { left: 299, top: 708, width: 2281, height: 2092, ...frame },
    { left: 299, top: 30, width: 2281, height: 608, ...frame },
    { left: 2655, top: 708, width: 666, height: 2092, ...frame },
  ],
  xAxis: [
    {
      gridIndex: 0, type: 'value', min: X_MIN, max: X_MAX, splitNumber: 5,
      axisLine: { show: false },
      axisTick: { ...tick, customValues: xTicks },
      axisLabel: { ...label, margin: 70, customValues: xTicks },
      splitLine: gridLine,
      name: 'Load of Node 0', nameLocation: 'middle', nameGap: 158,
      nameTextStyle: { fontFamily: FONT, fontSize: 107, color: '#000' },
    },
    {
      gridIndex: 1, type: 'value', min: X_MIN, max: X_MAX, splitNumber: 5,
      axisLine: { show: false },
      axisTick: { show: false, customValues: xTicks },
      axisLabel: { show: false, customValues: xTicks },
      splitLine: gridLine,
    },
    {
      gridIndex: 2, type: 'value', min: 0, max: 0.08726, splitNumber: 2,
      axisLine: { show: false },
      axisTick: { ...tick, customValues: rightTicks },
      axisLabel: { ...label, margin: 70, customValues: rightTicks, formatter: (v) => v.toFixed(2) },
      splitLine: gridLine,
    },
  ],
  yAxis: [
    {
      gridIndex: 0, type: 'value', min: Y_MIN, max: Y_MAX, splitNumber: 8,
      axisLine: { show: false },
      axisTick: { ...tick, customValues: yTicks },
      axisLabel: { ...label, margin: 58, customValues: yTicks },
      splitLine: gridLine,
      name: 'Load of Node 6', nameLocation: 'middle', nameGap: 182,
      nameTextStyle: { fontFamily: FONT, fontSize: 107, color: '#000' },
    },
    {
      gridIndex: 1, type: 'value', min: 0, max: 0.103, splitNumber: 1,
      axisLine: { show: false },
      axisTick: { ...tick, customValues: topTicks },
      axisLabel: { ...label, margin: 58, customValues: topTicks, formatter: (v) => v.toFixed(1) },
      splitLine: gridLine,
    },
    {
      gridIndex: 2, type: 'value', min: Y_MIN, max: Y_MAX, splitNumber: 8,
      axisLine: { show: false },
      axisTick: { show: false, customValues: yTicks },
      axisLabel: { show: false, customValues: yTicks },
      splitLine: gridLine,
    },
  ],
  legend: {
    left: 1401, top: 757, orient: 'vertical',
    padding: [33, 47, 46, 29],
    itemWidth: 209, itemHeight: 70, itemGap: 37,
    backgroundColor: 'rgba(255,255,255,0.8)',
    borderColor: '#cccccc', borderWidth: 5, borderRadius: 14,
    selectedMode: false,
    textStyle: { fontFamily: FONT, fontSize: 96, color: '#000', padding: [0, 0, 0, 69] },
    data: [
      { name: 'Ground Truth', icon: STAR, itemStyle: { color: '#000', borderWidth: 0, opacity: 1 } },
      { name: 'samples (corr=0.00)', icon: DOT, itemStyle: { color: BLUE, opacity: 1 } },
      { name: '95% quantiles', icon: BAND, itemStyle: { color: BLUE, opacity: 1 } },
    ],
  },
  series: [
    {
      name: 'samples (corr=0.00)', type: 'scatter', xAxisIndex: 0, yAxisIndex: 0,
      data: samplesHigh.concat(samplesMid, samplesLow),
      symbol: 'circle', symbolSize: 22, itemStyle: { color: BLUE, opacity: 1 }, z: 2, silent: true,
    },
    {
      name: '95% quantiles', type: 'custom', xAxisIndex: 0, yAxisIndex: 0,
      data: [quantileEllipse], encode: { x: 0, y: 1 }, z: 3, silent: true,
      itemStyle: { color: BLUE },
      renderItem: (params, api) => {
        const c = api.coord([api.value(0), api.value(1)]);
        const s = api.size([api.value(2), api.value(3)]);
        return {
          type: 'ellipse',
          shape: { cx: c[0], cy: c[1], rx: s[0], ry: s[1] },
          style: { fill: 'none', stroke: BLUE, lineWidth: 14 },
        };
      },
    },
    {
      name: 'Ground Truth', type: 'scatter', xAxisIndex: 0, yAxisIndex: 0,
      data: [groundTruth], symbol: STAR, symbolSize: 112, symbolKeepAspect: true, symbolOffset: [0, -5],
      itemStyle: { color: '#000', borderColor: '#fff', borderWidth: 11, borderJoin: 'bevel', opacity: 1 }, z: 5, silent: true,
    },
    {
      type: 'custom', xAxisIndex: 1, yAxisIndex: 1, data: topBars,
      encode: { x: [0, 1], y: 2 }, clip: true, z: 2, silent: true,
      renderItem: (params, api) => {
        const a = api.coord([api.value(0), api.value(2)]);
        const b = api.coord([api.value(1), 0]);
        const x0 = Math.round(a[0]), x1 = Math.round(b[0]);
        return { type: 'rect', shape: { x: x0, y: a[1], width: x1 - x0, height: b[1] - a[1] }, style: { fill: BAR } };
      },
    },
    {
      type: 'line', xAxisIndex: 1, yAxisIndex: 1, data: topKde, smooth: true,
      showSymbol: false, lineStyle: { color: BLUE, width: 13 }, z: 3, silent: true,
    },
    {
      type: 'custom', xAxisIndex: 2, yAxisIndex: 2, data: rightBars,
      encode: { x: 2, y: [0, 1] }, clip: true, z: 2, silent: true,
      renderItem: (params, api) => {
        const a = api.coord([0, api.value(1)]);
        const b = api.coord([api.value(2), api.value(0)]);
        const y0 = Math.round(a[1]), y1 = Math.round(b[1]);
        return { type: 'rect', shape: { x: a[0], y: y0, width: b[0] - a[0], height: y1 - y0 }, style: { fill: BAR } };
      },
    },
    {
      type: 'line', xAxisIndex: 2, yAxisIndex: 2, data: rightKde, smooth: true,
      showSymbol: false, lineStyle: { color: BLUE, width: 13 }, z: 3, silent: true,
    },
  ],
});
</script>
</body>
</html>
